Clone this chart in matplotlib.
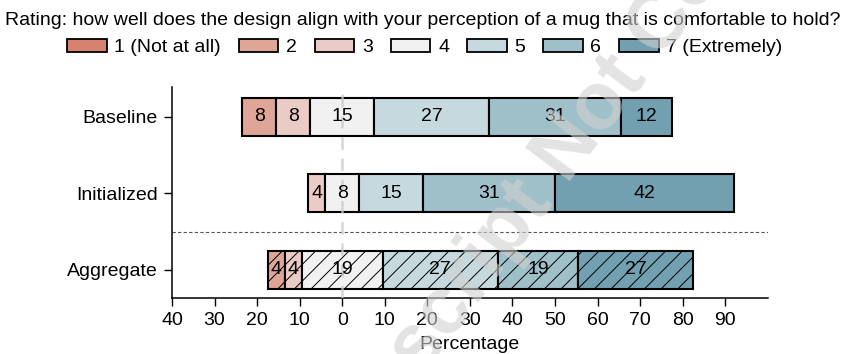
import numpy as np
import matplotlib
matplotlib.use("Agg")
import matplotlib.pyplot as plt
from matplotlib.patches import Patch

plt.rcParams['font.family'] = ['Liberation Sans', 'DejaVu Sans']

# survey answers, percent per rating 1..7
groups = ["Baseline", "Initialized", "Aggregate"]
rating_labels = ["1 (Not at all)", "2", "3", "4", "5", "6", "7 (Extremely)"]
baseline = [0, 8, 8, 15, 27, 31, 12]
initialized = [0, 0, 4, 8, 15, 31, 42]
aggregate = [0, 4, 4, 19, 27, 19, 27]
colors = ["#d5826f", "#dfa597", "#ebcbc5", "#f0f1f0", "#c5d9de", "#9fbfc9", "#72a0b0"]

data = [baseline, initialized, aggregate]
ypos = [2, 1, 0]
hatched = [False, False, True]

fig = plt.figure(figsize=(8.41, 3.54), dpi=100)
ax = fig.add_axes([0.2045, 0.158, 0.7085, 0.596])

plt.rcParams['hatch.linewidth'] = 0.7
for vals, y, h in zip(data, ypos, hatched):
    vals = np.array(vals, dtype=float)
    # center the neutral answer (4) on zero
    start = -(vals[:3].sum() + vals[3] / 2)
    for i, v in enumerate(vals):
        if v == 0:
            continue
        ax.barh(y, v, left=start, height=0.5, color=colors[i], edgecolor="black",
                linewidth=1.5, hatch="//" if h else None, zorder=2)
        ax.text(start + v / 2, y, f"{int(v)}", ha="center", va="center",
                fontsize=14, zorder=4)
        start += v

ax.axvline(0, color="#cccccc", linestyle=(0, (5, 3.5)), linewidth=1.8, zorder=3, alpha=0.8)
ax.axhline(0.5, color="#555555", linestyle=(0, (3, 2)), linewidth=0.8, zorder=1)

ax.set_xlim(-40, 100)
ax.set_ylim(-0.37, 2.39)
ticks = np.arange(-40, 100, 10)
ax.set_xticks(ticks)
ax.set_xticklabels([str(abs(t)) for t in ticks], fontsize=14)
ax.set_yticks(ypos)
ax.set_yticklabels(groups, fontsize=14)
ax.tick_params(length=6, width=1, pad=4)
ax.set_xlabel("Percentage", fontsize=14, labelpad=5)
for s in ["top", "right"]:
    ax.spines[s].set_visible(False)
for s in ["left", "bottom"]:
    ax.spines[s].set_linewidth(1.1)

fig.text(0.503, 0.942, "Rating: how well does the design align with your perception of a mug that is comfortable to hold?",
         ha="center", va="center", fontsize=14)
handles = [Patch(facecolor=c, edgecolor="black", linewidth=1.3) for c in colors]
fig.legend(handles, rating_labels, loc="center", bbox_to_anchor=(0.505, 0.866), ncol=7,
           frameon=False, fontsize=14, handlelength=2.05, handleheight=0.72,
           handletextpad=0.4, columnspacing=0.9, borderpad=0)

# light stamp across the whole figure
fig.text(0.705, 0.675, "Manuscript Not Copyedited", ha="center", va="center",
         rotation=53, rotation_mode="anchor", fontsize=58, fontweight="bold",
         color="#d1d1d1", alpha=0.6, zorder=10)

fig.savefig("out.png", dpi=100)
